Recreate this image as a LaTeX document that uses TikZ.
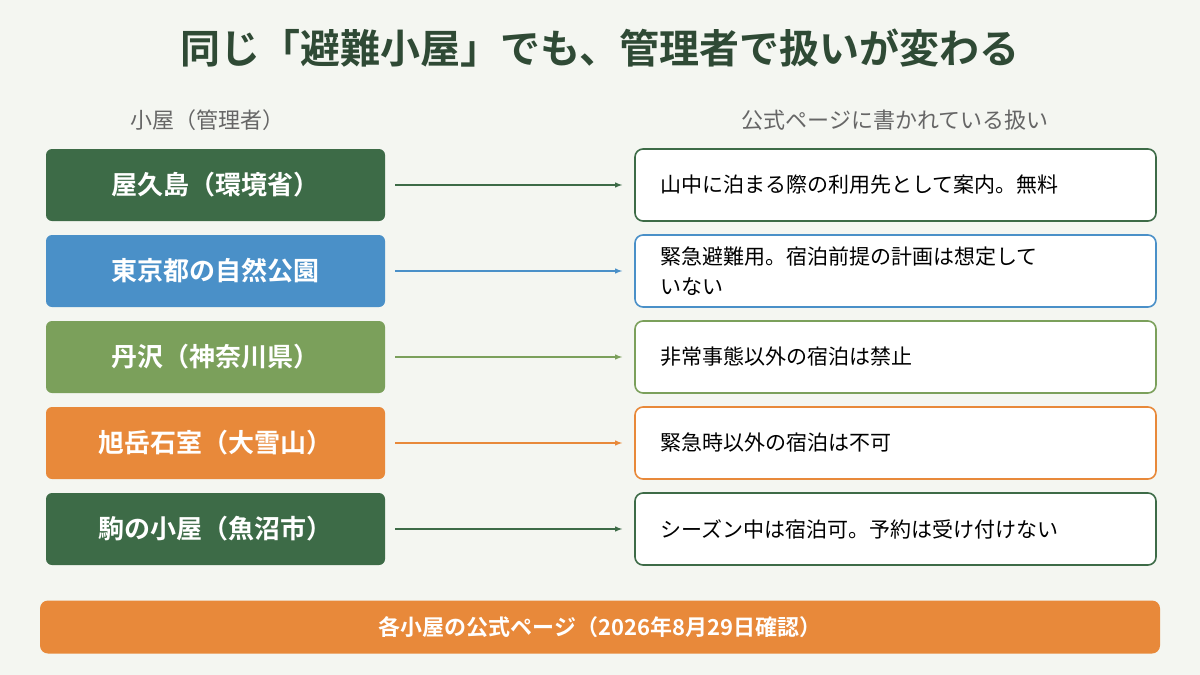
\documentclass[tikz,border=0pt]{standalone}
\usepackage{fontspec}
\setmainfont{Noto Sans CJK JP}
\newfontfamily\jpb{Noto Sans CJK JP Bold}
\begin{document}
\definecolor{bg}{HTML}{F4F6F1}
\definecolor{dg}{HTML}{3D6B47}
\definecolor{bl}{HTML}{4A90C8}
\definecolor{lg}{HTML}{7BA05B}
\definecolor{og}{HTML}{E8893A}
\definecolor{tt}{HTML}{2F4A35}
\definecolor{gr}{HTML}{666666}
\begin{tikzpicture}[x=1pt,y=-1pt,
 lbox/.style={rounded corners=6pt,minimum width=339pt,minimum height=72pt,text=white,font=\jpb\fontsize{26}{30}\selectfont,inner sep=0pt},
 rbox/.style={rounded corners=8pt,fill=white,line width=1.6pt,minimum width=521pt,minimum height=72pt,inner sep=0pt},
 rt/.style={font=\fontsize{21}{30}\selectfont,anchor=west,align=left,text width=480pt},
 arr/.style={-latex,line width=1.4pt}]
\fill[bg] (0,0) rectangle (1200,675);
\useasboundingbox (0,0) rectangle (1200,675);
\node[text=tt,font=\jpb\fontsize{40}{44}\selectfont] (title) at (600,48) {同じ「避難小屋」でも、管理者で扱いが変わる};
\node[text=gr,font=\fontsize{22}{26}\selectfont] (h1) at (207,120) {小屋（管理者）};
\node[text=gr,font=\fontsize{22}{26}\selectfont] (h2) at (895,120) {公式ページに書かれている扱い};
\foreach \i/\c/\l/\r in {
 1/dg/屋久島（環境省）/山中に泊まる際の利用先として案内。無料,
 2/bl/東京都の自然公園/{緊急避難用。宿泊前提の計画は想定して\\いない},
 3/lg/丹沢（神奈川県）/非常事態以外の宿泊は禁止,
 4/og/旭岳石室（大雪山）/緊急時以外の宿泊は不可,
 5/dg/駒の小屋（魚沼市）/シーズン中は宿泊可。予約は受け付けない}{
 \pgfmathsetmacro\yy{185+86*(\i-1)}
 \node[lbox,fill=\c] (L\i) at (215.5,\yy) {\l};
 \node[rbox,draw=\c] (R\i) at (895.5,\yy) {};
 \node[rt] (T\i) at (657,\yy) {\r};
 \draw[arr,draw=\c] ([xshift=10pt]L\i.east) -- ([xshift=-12pt]R\i.west);
}
\node[rounded corners=8pt,fill=og,minimum width=1120pt,minimum height=53pt,text=white,font=\jpb\fontsize{22}{26}\selectfont] (foot) at (600,627) {各小屋の公式ページ（2026年8月29日確認）};
\end{tikzpicture}
\end{document}
